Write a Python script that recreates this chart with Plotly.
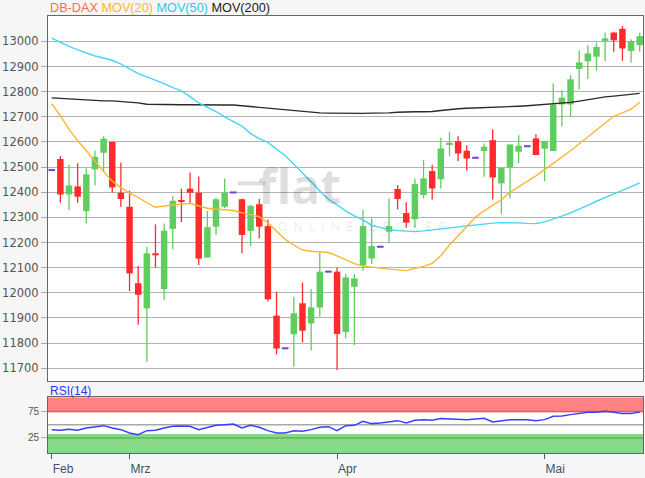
import plotly.graph_objects as go

# ---------------- data ----------------
opens = [12488, 12532, 12391, 12423, 12325, 12491, 12557, 12600, 12398, 12342,
         12038, 11938, 12157, 12015, 12254, 12369, 12414, 12398, 12140, 12263,
         12342, 12399, 12372, 12246, 12352, 12265, 11909, 11779, 11835, 11958,
         11878, 11941, 12084, 12084, 11844, 12024, 12109, 12136, 12183, 12243,
         12413, 12317, 12292, 12389, 12484, 12452, 12591, 12603, 12565, 12537,
         12564, 12607, 12435, 12499, 12561, 12583, 12614, 12573, 12564, 12749,
         12749, 12890, 12921, 12939, 13002, 13035, 13050, 12962, 12985]
highs = [12488, 12544, 12508, 12515, 12495, 12565, 12623, 12602, 12517, 12406,
         12106, 12182, 12272, 12276, 12385, 12414, 12478, 12462, 12325, 12379,
         12455, 12399, 12375, 12350, 12373, 12290, 12004, 11779, 11984, 12041,
         12014, 12161, 12084, 12100, 12075, 12075, 12329, 12296, 12183, 12375,
         12428, 12360, 12455, 12528, 12508, 12618, 12640, 12623, 12587, 12537,
         12594, 12650, 12497, 12590, 12627, 12583, 12631, 12603, 12833, 12806,
         12866, 12965, 12985, 12996, 13035, 13038, 13061, 13009, 13034]
lows = [12488, 12358, 12329, 12358, 12276, 12428, 12482, 12398, 12342, 12007,
        11873, 11726, 12101, 11971, 12173, 12281, 12356, 12110, 12140, 12230,
        12336, 12399, 12157, 12186, 12216, 11965, 11755, 11779, 11706, 11802,
        11770, 11905, 12084, 11693, 11819, 11792, 12088, 12114, 12183, 12199,
        12332, 12259, 12260, 12375, 12371, 12415, 12544, 12524, 12485, 12537,
        12461, 12371, 12312, 12375, 12515, 12583, 12548, 12444, 12564, 12663,
        12700, 12809, 12850, 12884, 12921, 12959, 12923, 12915, 12959]
closes = [12488, 12391, 12427, 12382, 12471, 12541, 12613, 12419, 12373, 12077,
          11992, 12157, 12149, 12247, 12366, 12362, 12398, 12136, 12261, 12372,
          12398, 12399, 12230, 12346, 12263, 11974, 11778, 11779, 11918, 11849,
          11942, 12084, 12084, 11836, 12061, 12057, 12265, 12186, 12183, 12265,
          12373, 12279, 12432, 12455, 12415, 12574, 12597, 12554, 12534, 12537,
          12581, 12459, 12497, 12590, 12585, 12583, 12548, 12603, 12749, 12776,
          12849, 12916, 12952, 12978, 13012, 13004, 12972, 13000, 13021]

ma20 = [12752, 12705, 12650, 12605, 12565, 12522, 12482, 12444, 12418, 12396,
        12379, 12358, 12340, 12345, 12349, 12352, 12356, 12345, 12336, 12333,
        12330, 12327, 12318, 12312, 12303, 12278, 12245, 12212, 12190, 12170,
        12165, 12163, 12160, 12147, 12131, 12116, 12106, 12101, 12098, 12094,
        12091, 12088, 12097, 12105, 12117, 12148, 12190, 12226, 12263, 12300,
        12326, 12347, 12370, 12400, 12422, 12442, 12465, 12490, 12515, 12539,
        12565, 12593, 12620, 12647, 12675, 12702, 12716, 12730, 12758]
ma50 = [13013, 12995, 12980, 12966, 12953, 12942, 12934, 12925, 12910, 12892,
        12872, 12859, 12847, 12832, 12816, 12803, 12780, 12755, 12738, 12721,
        12700, 12682, 12663, 12633, 12613, 12598, 12572, 12545, 12511, 12478,
        12442, 12405, 12372, 12350, 12325, 12306, 12290, 12268, 12258, 12251,
        12247, 12244, 12243, 12246, 12249, 12253, 12258, 12262, 12266, 12270,
        12274, 12277, 12279, 12279, 12278, 12276, 12275, 12282, 12292, 12305,
        12318, 12332, 12348, 12364, 12380, 12393, 12407, 12422, 12437]
ma200 = [12775, 12773, 12770, 12768, 12765, 12763, 12763, 12763, 12761, 12758,
         12755, 12750, 12749, 12749, 12749, 12748, 12748, 12747, 12747, 12747,
         12747, 12747, 12744, 12740, 12737, 12734, 12731, 12727, 12723, 12720,
         12718, 12716, 12715, 12714, 12714, 12714, 12714, 12715, 12715, 12716,
         12718, 12720, 12720, 12720, 12721, 12725, 12730, 12732, 12734, 12735,
         12736, 12737, 12738, 12740, 12742, 12744, 12746, 12748, 12750, 12753,
         12757, 12762, 12768, 12774, 12779, 12782, 12785, 12789, 12793]
rsi = [40.7, 39.4, 41.3, 39.4, 43.8, 45.7, 48.2, 43.8, 40.7, 34.4,
       31.3, 38.8, 39.4, 43.8, 47.0, 47.6, 47.0, 40.7, 45.1, 48.8,
       50.1, 51.3, 43.8, 48.8, 45.1, 38.8, 34.4, 34.4, 38.8, 37.5,
       40.7, 45.1, 46.3, 38.8, 48.2, 48.8, 56.3, 52.0, 53.2, 55.1,
       57.6, 53.2, 58.2, 59.5, 58.2, 61.4, 60.7, 61.4, 59.5, 60.7,
       62.0, 55.1, 57.6, 59.5, 59.5, 59.5, 57.6, 59.5, 65.7, 66.4,
       68.9, 71.4, 73.3, 73.3, 75.1, 73.3, 70.8, 70.8, 73.9]

month_pos = [0, 9, 33, 57]
month_labels = ["Feb", "Mrz", "Apr", "Mai"]
price_ticks = list(range(11700, 13001, 100))
rsi_ticks = [25, 75]
legend_names = ["DB-DAX", "MOV(20)", "MOV(50)", "MOV(200)"]

# ---------------- styling ----------------
GREEN = "#5fcd5f"
RED = "#ff2b2b"
DOJI = "#6a44d4"
C20 = "#ffb52e"
C50 = "#45d5f5"
C200 = "#2a2a2a"
BODY_W = 0.75

n = len(closes)
xs = list(range(n))
up = [i for i in xs if closes[i] > opens[i]]
dn = [i for i in xs if closes[i] < opens[i]]
dj = [i for i in xs if closes[i] == opens[i]]


def wick_xy(ids):
    wx, wy = [], []
    for i in ids:
        wx += [i, i, None]
        wy += [lows[i], highs[i], None]
    return wx, wy


def doji_xy(ids):
    dx, dy = [], []
    for i in ids:
        dx += [i - 0.38, i + 0.38, None]
        dy += [closes[i], closes[i], None]
    return dx, dy


fig = go.Figure()

for ids, col in ((up, GREEN), (dn, RED)):
    wx, wy = wick_xy(ids)
    fig.add_trace(go.Scatter(x=wx, y=wy, mode="lines", line=dict(color=col, width=1.3),
                             hoverinfo="skip", xaxis="x", yaxis="y"))

fig.add_trace(go.Bar(x=up, y=[closes[i] - opens[i] for i in up], base=[opens[i] for i in up],
                     width=BODY_W, marker=dict(color=GREEN, line=dict(width=0)),
                     xaxis="x", yaxis="y"))
fig.add_trace(go.Bar(x=dn, y=[opens[i] - closes[i] for i in dn], base=[closes[i] for i in dn],
                     width=BODY_W, marker=dict(color=RED, line=dict(width=0)),
                     xaxis="x", yaxis="y"))
dx, dy = doji_xy(dj)
fig.add_trace(go.Scatter(x=dx, y=dy, mode="lines", line=dict(color=DOJI, width=2),
                         xaxis="x", yaxis="y"))

fig.add_trace(go.Scatter(x=xs, y=ma200, mode="lines", line=dict(color=C200, width=1.3),
                         xaxis="x", yaxis="y"))
fig.add_trace(go.Scatter(x=xs, y=ma50, mode="lines", line=dict(color=C50, width=1.4),
                         xaxis="x", yaxis="y"))
fig.add_trace(go.Scatter(x=xs, y=ma20, mode="lines", line=dict(color=C20, width=1.4),
                         xaxis="x", yaxis="y"))

fig.add_trace(go.Scatter(x=xs, y=rsi, mode="lines", line=dict(color="#3c3cff", width=1.5),
                         xaxis="x2", yaxis="y2"))

XR = [-0.43, 68.38]
RSI_R = [-3.2, 101.5]
FONT = "Liberation Sans, Arial, sans-serif"

fig.update_layout(
    width=645, height=478,
    margin=dict(l=48, r=2, t=16, b=25, pad=0),
    paper_bgcolor="#f6f6f6", plot_bgcolor="#ffffff",
    showlegend=False, barmode="overlay",
    font=dict(family=FONT, size=12, color="#555555"),
    xaxis=dict(domain=[0, 1], anchor="y", range=XR, showticklabels=False, showgrid=False,
               zeroline=False, showline=True, mirror=True, linecolor="#666666", linewidth=1,
               ticks=""),
    yaxis=dict(domain=[0.1648, 1], anchor="x", range=[11649, 13101], tickvals=price_ticks,
               tickformat="d",
               gridcolor="#b3b3b3", gridwidth=1, ticks="outside", ticklen=6, tickcolor="#aaaaaa",
               showline=True, mirror=True, linecolor="#666666", linewidth=1, zeroline=False,
               tickfont=dict(family="DejaVu Sans, sans-serif", size=11.5, color="#555555")),
    xaxis2=dict(domain=[0, 1], anchor="y2", range=XR, tickvals=month_pos, ticktext=month_labels,
                ticks="outside", ticklen=5, tickcolor="#4a5a6a", ticklabelposition="outside right",
                ticklabelstandoff=5,
                showgrid=False, zeroline=False, showline=True, mirror=True, linecolor="#666666",
                linewidth=1, tickfont=dict(family=FONT, size=12, color="#3f5365")),
    yaxis2=dict(domain=[0, 0.1275], anchor="x2", range=RSI_R, tickvals=rsi_ticks,
                showgrid=False, ticks="outside", ticklen=6, tickcolor="#aaaaaa",
                showline=True, mirror=True, linecolor="#666666", linewidth=1, zeroline=False,
                tickfont=dict(family=FONT, size=10, color="#555555")),
)

# RSI zones and guide lines
fig.add_shape(type="rect", xref="x2", x0=XR[0], x1=XR[1], yref="y2", y0=73.3, y1=RSI_R[1],
              fillcolor="#ff8282", line=dict(width=0), layer="below")
fig.add_shape(type="rect", xref="x2", x0=XR[0], x1=XR[1], yref="y2", y0=RSI_R[0], y1=32.5,
              fillcolor="#88d888", line=dict(width=0), layer="below")
for lv, lc in ((75, "#e06060"), (50, "#a8a8a8"), (25, "#5cb85c")):
    fig.add_shape(type="line", xref="x2", x0=XR[0], x1=XR[1], yref="y2", y0=lv, y1=lv,
                  line=dict(color=lc, width=1.5), layer="below")

# watermark (faint logo behind the candles)
fig.add_shape(type="line", xref="paper", yref="paper", x0=0.319, x1=0.365, y0=0.617, y1=0.617,
              line=dict(color="rgba(0,0,0,0.13)", width=4), layer="below")
fig.add_annotation(xref="paper", yref="paper", x=0.35, y=0.6126, xanchor="left", yanchor="middle",
                   text="flat\u00a0<span style='color:rgba(0,0,0,0.055)'>e\u00a0\u00a0x</span>",
                   showarrow=False,
                   font=dict(family="Open Sans, sans-serif", size=48, weight=700,
                             color="rgba(0,0,0,0.13)"))
fig.add_annotation(xref="paper", yref="paper", x=0.528, y=0.518, xanchor="center", yanchor="middle",
                   text="O\u00a0\u00a0N\u00a0\u00a0L\u00a0\u00a0I\u00a0\u00a0N\u00a0\u00a0E\u00a0\u00a0\u00a0\u00a0\u00a0B\u00a0\u00a0R\u00a0\u00a0O\u00a0\u00a0K\u00a0\u00a0E\u00a0\u00a0R",
                   showarrow=False,
                   font=dict(family="Open Sans, sans-serif", size=12, color="rgba(0,0,0,0.10)"))

# legend text
cols = ["#ff6e45", C20, "#33c6ee", "#222222"]
legend_html = " ".join(f"<span style='color:{c}'>{t}</span>" for t, c in zip(legend_names, cols))
fig.add_annotation(xref="paper", yref="paper", x=0, y=1.0172, xanchor="left", yanchor="middle",
                   text=legend_html, showarrow=False, font=dict(family=FONT, size=12.7))
fig.add_annotation(xref="paper", yref="paper", x=0, y=0.143, xanchor="left", yanchor="middle",
                   text="RSI(14)", showarrow=False, font=dict(family=FONT, size=12, color="#2236ff"))

# the page's default 8px body margin would shift the figure; remove it
fig.write_html("out.html", config={"displayModeBar": False},
               post_script="document.body.style.margin='0';")
